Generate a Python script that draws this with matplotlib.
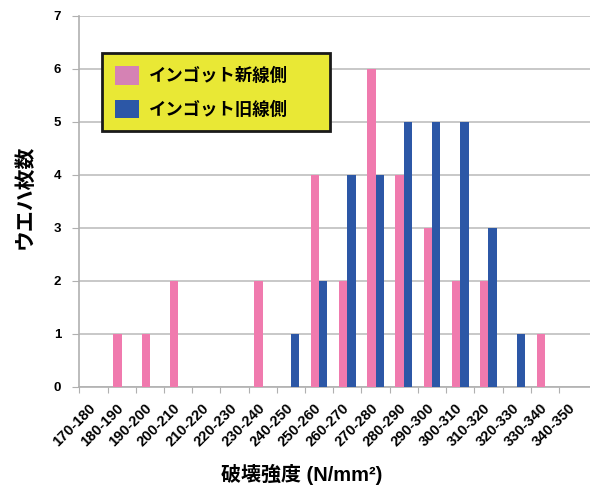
import matplotlib
matplotlib.use("Agg")
import matplotlib.pyplot as plt
from matplotlib.patches import Patch
import numpy as np

# strength classes (N/mm2)
classes = ["170-180", "180-190", "190-200", "200-210", "210-220", "220-230",
           "230-240", "240-250", "250-260", "260-270", "270-280", "280-290",
           "290-300", "300-310", "310-320", "320-330", "330-340", "340-350"]
# wafer counts per class
new_side = [0, 1, 1, 2, 0, 0, 2, 0, 4, 2, 6, 4, 3, 2, 2, 0, 1, 0]
old_side = [0, 0, 0, 0, 0, 0, 0, 1, 2, 4, 4, 5, 5, 5, 3, 1, 0, 0]
series_names = ["インゴット新線側", "インゴット旧線側"]

pink = "#f07aae"
blue = "#2c57a6"
jp = ["Liberation Sans", "Noto Sans CJK JP"]

fig = plt.figure(figsize=(5.9, 4.88), dpi=100)
ax = fig.add_axes([79.3 / 590, 1 - 386.7 / 488, 1 - 79.3 / 590, (386.7 - 16) / 488])

x = np.arange(len(classes))
w = 0.294
ax.bar(x - w / 2, new_side, w, color=pink, zorder=3)
ax.bar(x + w / 2, old_side, w, color=blue, zorder=3)

ax.set_ylim(0, 7)
ax.set_xlim(-0.5, 17.6)
ax.set_yticks(range(8))
ax.yaxis.grid(True, color="#c4c4c4", linewidth=1.3, zorder=0)
ax.tick_params(axis="y", length=5, color="#b0b0b0", pad=8)
for lbl in ax.get_yticklabels():
    lbl.set_fontweight("bold")
    lbl.set_fontsize(9.5)
    lbl.set_family("Liberation Sans")

# ticks at class boundaries, labels at class centres
ax.set_xticks(np.arange(-0.5, 17, 1.0))
ax.set_xticklabels([])
ax.set_xticks(x, minor=True)
ax.set_xticklabels(classes, minor=True, rotation=45, ha="right", va="center",
                   rotation_mode="anchor", fontsize=10.5, fontweight="bold",
                   family="Liberation Sans")
ax.tick_params(axis="x", which="minor", length=0, pad=14)
ax.tick_params(axis="x", which="major", length=4, color="#b0b0b0")

for s in ["top", "right"]:
    ax.spines[s].set_visible(False)
ax.spines["left"].set_color("#b0b0b0")
ax.spines["bottom"].set_color("#b0b0b0")
ax.spines["left"].set_linewidth(1.2)
ax.spines["bottom"].set_linewidth(1.2)

handles = [Patch(facecolor="#d582b4"), Patch(facecolor=blue)]
leg = fig.legend(handles, series_names, loc="upper left",
                 bbox_to_anchor=(102.3 / 590, 1 - 53.3 / 488 - 0.01, 228 / 590, 0.01),
                 mode="expand", borderaxespad=0, fancybox=False,
                 prop={"family": jp, "weight": "bold", "size": 12.5},
                 handlelength=1.36, handleheight=1.28, handletextpad=0.6,
                 labelspacing=0.85, borderpad=0.75)
leg.get_frame().set_facecolor("#e9e835")
leg.get_frame().set_edgecolor("#1a1a1a")
leg.get_frame().set_linewidth(2)
leg.get_frame().set_alpha(1)

ax.set_ylabel("ウエハ枚数", family=jp, fontsize=15, fontweight="bold")
ax.yaxis.set_label_coords(-0.087, 0.512)
fig.text(301.7 / 590, 1 - 474 / 488, "破壊強度 (N/mm²)", family=jp, fontsize=14.4,
         fontweight="bold", ha="center", va="center")

fig.savefig("out.png", dpi=100)
